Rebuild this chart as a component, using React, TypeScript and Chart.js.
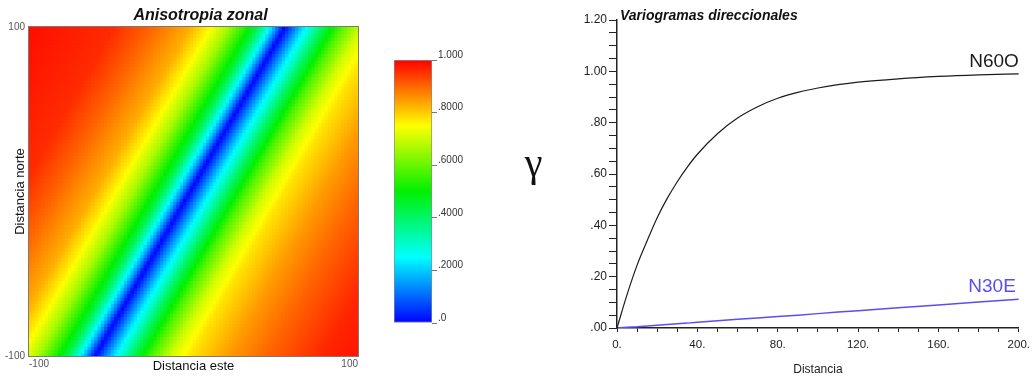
import React, { useEffect, useRef } from "react";
import { Chart, registerables } from "chart.js";

Chart.register(...registerables);

const FONT = "'Liberation Sans', Arial, Helvetica, sans-serif";

// ---------- Directional variograms (right panel) ----------
const lagDistances = [0, 5, 10, 15, 20, 25, 30, 35, 40, 50, 60, 70, 80, 90, 100, 110, 120, 140, 160, 180, 200];
const gammaN60O = [0, 0.13, 0.245, 0.34, 0.43, 0.505, 0.57, 0.627, 0.677, 0.757, 0.818, 0.862, 0.895, 0.918, 0.935, 0.948, 0.958, 0.971, 0.98, 0.986, 0.99];
const gammaN30E = [0, 0.003, 0.005, 0.008, 0.011, 0.014, 0.017, 0.019, 0.022, 0.028, 0.034, 0.039, 0.045, 0.05, 0.056, 0.062, 0.067, 0.079, 0.09, 0.101, 0.112];
const seriesNames = ["N60O", "N30E"];
const seriesColors = ["#1c1c1c", "#5a4df2"];
const distanceTickLabels = ["0.", "40.", "80.", "120.", "160.", "200."];
const gammaTickLabels = [".00", ".20", ".40", ".60", ".80", "1.00", "1.20"];

// ---------- Variogram map (left panel) ----------
const mapExtent = [-100, 100];
const mapTickLabels = ["-100", "100"];
const mapBandAzimuth = 30; // direction of continuity N30E (degrees from north)
const mapBandOffset = -2; // east offset of the band axis at north = 0, read from the map
// map value vs. signed distance across the band (west < 0 < east), read from the map colours
const mapProfileOffsets = [-140, -90, -70, -50, -40, -30, -20, -15, -10, -5, 0, 5, 10, 15, 20, 30, 40, 50, 70, 90, 120, 140];
const mapProfileValues = [0.99, 0.958, 0.9, 0.83, 0.76, 0.665, 0.52, 0.44, 0.315, 0.165, 0, 0.115, 0.225, 0.315, 0.415, 0.58, 0.705, 0.775, 0.848, 0.9, 0.963, 0.98];
const mapCellSize = 2;

// ---------- Colour bar ----------
const colourStops = [0, 0.25, 0.5, 0.75, 1];
const colourStopRGB = [
  [0, 0, 255],
  [0, 255, 255],
  [0, 240, 0],
  [255, 255, 0],
  [255, 0, 0],
];
const colourBarMax = 1;
const colourBarTickLabels = [".0", ".2000", ".4000", ".6000", ".8000", "1.000"];

function interp(xs: number[], ys: number[], x: number) {
  if (x <= xs[0]) return ys[0];
  for (let i = 1; i < xs.length; i++) {
    if (x <= xs[i]) {
      const t = (x - xs[i - 1]) / (xs[i] - xs[i - 1]);
      return ys[i - 1] + t * (ys[i] - ys[i - 1]);
    }
  }
  return ys[ys.length - 1];
}

function rampColour(v: number) {
  const c = [0, 1, 2].map((k) => Math.round(interp(colourStops, colourStopRGB.map((s) => s[k]), v)));
  return `rgb(${c[0]},${c[1]},${c[2]})`;
}

function makeMapConfig(): any {
  const az = (mapBandAzimuth * Math.PI) / 180;
  const cells: { x: number; y: number }[] = [];
  const colours: string[] = [];
  for (let y = mapExtent[0] + mapCellSize / 2; y < mapExtent[1]; y += mapCellSize) {
    for (let x = mapExtent[0] + mapCellSize / 2; x < mapExtent[1]; x += mapCellSize) {
      const across = (x - mapBandOffset) * Math.cos(az) - y * Math.sin(az);
      cells.push({ x, y });
      colours.push(rampColour(interp(mapProfileOffsets, mapProfileValues, across)));
    }
  }
  const frame = {
    id: "frame",
    afterDatasetsDraw(chart: any) {
      const { ctx, chartArea: a } = chart;
      ctx.save();
      ctx.strokeStyle = "#7a7a7a";
      ctx.lineWidth = 1;
      ctx.strokeRect(Math.round(a.left) - 0.5, Math.round(a.top) - 0.5, Math.round(a.right - a.left) + 1, Math.round(a.bottom - a.top) + 1);
      ctx.fillStyle = "#111";
      ctx.font = `italic bold 16px ${FONT}`;
      ctx.textAlign = "center";
      ctx.textBaseline = "middle";
      ctx.fillText("Anisotropia zonal", (a.left + a.right) / 2 + 7, 16);
      ctx.restore();
    },
  };
  const tickFont = { family: FONT, size: 10 };
  return {
    type: "scatter",
    data: {
      datasets: [
        {
          data: cells,
          pointStyle: "rect",
          pointRadius: 3.2,
          pointHoverRadius: 3.2,
          backgroundColor: colours,
          borderWidth: 0,
        },
      ],
    },
    options: {
      animation: false,
      responsive: false,
      events: [],
      layout: { padding: { left: 0, right: 12, top: 27, bottom: 0 } },
      plugins: {
        legend: { display: false },
        tooltip: { enabled: false },
        title: { display: false },
      },
      scales: {
        x: {
          type: "linear",
          min: mapExtent[0],
          max: mapExtent[1],
          afterBuildTicks: (s: any) => {
            s.ticks = mapExtent.map((v) => ({ value: v }));
          },
          afterFit: (s: any) => {
            s.height = 24;
          },
          ticks: {
            align: "inner",
            autoSkip: false,
            maxRotation: 0,
            padding: 2,
            color: "#555",
            font: tickFont,
            callback: (_v: any, i: number) => mapTickLabels[i],
          },
          grid: { display: false, drawTicks: false },
          border: { display: false },
          title: {
            display: true,
            text: "Distancia este",
            color: "#111",
            font: { family: FONT, size: 13 },
            padding: { top: 0, bottom: 6 },
          },
        },
        y: {
          type: "linear",
          min: mapExtent[0],
          max: mapExtent[1],
          afterBuildTicks: (s: any) => {
            s.ticks = mapExtent.map((v) => ({ value: v }));
          },
          afterFit: (s: any) => {
            s.width = 29;
          },
          ticks: {
            autoSkip: false,
            padding: 4,
            color: "#555",
            font: tickFont,
            callback: (_v: any, i: number) => mapTickLabels[i],
          },
          grid: { display: false, drawTicks: false },
          border: { display: false },
          title: {
            display: true,
            text: "Distancia norte",
            color: "#111",
            font: { family: FONT, size: 13 },
            padding: { top: 13, bottom: 0 },
          },
        },
      },
    },
    plugins: [frame],
  };
}

function makeColourBarConfig(): any {
  return {
    type: "bar",
    data: {
      labels: ["escala"],
      datasets: [
        {
          data: [colourBarMax],
          barPercentage: 1,
          categoryPercentage: 1,
          borderWidth: 1,
          borderColor: "#8a8a8a",
          borderSkipped: false,
          backgroundColor: (ctx: any) => {
            const chart = ctx.chart;
            if (!chart.chartArea) return "#fff";
            const y = chart.scales.y;
            const g = chart.ctx.createLinearGradient(0, y.getPixelForValue(0), 0, y.getPixelForValue(colourBarMax));
            colourStops.forEach((s) => g.addColorStop(s, rampColour(s)));
            return g;
          },
        },
      ],
    },
    options: {
      animation: false,
      responsive: false,
      events: [],
      layout: { padding: { left: 14, right: 0, top: 60, bottom: 57 } },
      plugins: { legend: { display: false }, tooltip: { enabled: false } },
      scales: {
        x: { display: false },
        y: {
          position: "right",
          min: 0,
          max: colourBarMax,
          afterFit: (s: any) => {
            s.width = 68;
          },
          ticks: {
            stepSize: 0.2,
            align: "end",
            padding: 1,
            color: "#333",
            font: { family: FONT, size: 10 },
            callback: (_v: any, i: number) => colourBarTickLabels[i],
          },
          grid: { drawOnChartArea: false, tickLength: 5, tickColor: "#777" },
          border: { display: false },
        },
      },
    },
  };
}

function makeVariogramConfig(): any {
  const annotate = {
    id: "annotate",
    afterDraw(chart: any) {
      const { ctx, chartArea: a, scales } = chart;
      ctx.save();
      ctx.fillStyle = "#111";
      ctx.textAlign = "left";
      ctx.textBaseline = "middle";
      ctx.font = `italic bold 14px ${FONT}`;
      ctx.fillText("Variogramas direccionales", a.left + 3, 16);
      ctx.font = "40px 'Liberation Serif', 'Times New Roman', serif";
      ctx.textAlign = "center";
      ctx.textBaseline = "alphabetic";
      ctx.fillText("γ", 33.5, 176);
      const last = lagDistances.length - 1;
      const xEnd = scales.x.getPixelForValue(lagDistances[last]);
      ctx.textAlign = "right";
      ctx.font = `19px ${FONT}`;
      ctx.fillStyle = seriesColors[0];
      ctx.fillText(seriesNames[0], xEnd, scales.y.getPixelForValue(gammaN60O[last]) - 7);
      ctx.fillStyle = seriesColors[1];
      ctx.fillText(seriesNames[1], xEnd - 3, scales.y.getPixelForValue(gammaN30E[last]) - 7);
      ctx.restore();
    },
  };
  return {
    type: "line",
    data: {
      datasets: [
        {
          label: seriesNames[0],
          data: lagDistances.map((x, i) => ({ x, y: gammaN60O[i] })),
          borderColor: seriesColors[0],
          borderWidth: 1.2,
          pointRadius: 0,
          cubicInterpolationMode: "monotone",
        },
        {
          label: seriesNames[1],
          data: lagDistances.map((x, i) => ({ x, y: gammaN30E[i] })),
          borderColor: seriesColors[1],
          borderWidth: 1.5,
          pointRadius: 0,
          tension: 0,
        },
      ],
    },
    options: {
      animation: false,
      responsive: false,
      events: [],
      layout: { padding: { left: 0, right: 15, top: 20, bottom: 0 } },
      plugins: { legend: { display: false }, tooltip: { enabled: false } },
      scales: {
        x: {
          type: "linear",
          min: 0,
          max: 200,
          afterFit: (s: any) => {
            s.height = 52;
          },
          ticks: {
            stepSize: 10,
            autoSkip: false,
            maxRotation: 0,
            padding: 6,
            color: "#222",
            font: { family: FONT, size: 11.5 },
            callback: (_v: any, i: number) => (i % 4 === 0 ? distanceTickLabels[i / 4] : ""),
          },
          grid: { drawOnChartArea: false, tickLength: 4, tickColor: "#222" },
          border: { color: "#222", width: 1.5 },
          title: {
            display: true,
            text: "Distancia",
            color: "#222",
            font: { family: FONT, size: 12 },
            padding: { top: 0, bottom: 3 },
          },
        },
        y: {
          type: "linear",
          min: 0,
          max: 1.2,
          afterFit: (s: any) => {
            s.width = 117;
          },
          ticks: {
            stepSize: 0.05,
            autoSkip: false,
            padding: 2,
            color: "#222",
            font: { family: FONT, size: 12 },
            callback: (_v: any, i: number) => (i % 4 === 0 ? gammaTickLabels[i / 4] : ""),
          },
          grid: { drawOnChartArea: false, tickLength: 8, tickColor: "#222" },
          border: { color: "#222", width: 1.5 },
        },
      },
    },
    plugins: [annotate],
  };
}

function ChartCanvas({ left, width, make }: { left: number; width: number; make: () => any }) {
  const ref = useRef<HTMLCanvasElement>(null);
  useEffect(() => {
    const chart = new Chart(ref.current as HTMLCanvasElement, make());
    return () => chart.destroy();
  }, []);
  return (
    <canvas
      ref={ref}
      width={width}
      height={380}
      style={{ position: "absolute", left, top: 0, width, height: 380, display: "block" }}
    />
  );
}

export default function App() {
  return (
    <div style={{ position: "absolute", left: 0, top: 0, width: 1036, height: 380, background: "#fff", overflow: "hidden" }}>
      <ChartCanvas left={0} width={370} make={makeMapConfig} />
      <ChartCanvas left={380} width={120} make={makeColourBarConfig} />
      <ChartCanvas left={500} width={536} make={makeVariogramConfig} />
    </div>
  );
}
